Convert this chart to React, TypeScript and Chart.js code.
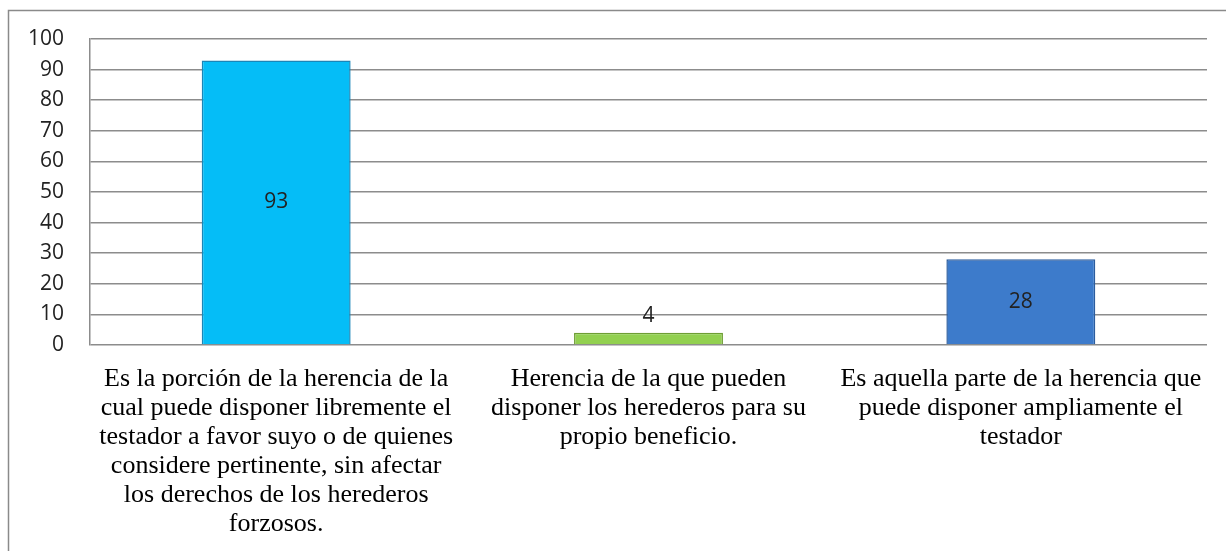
import React, { useEffect, useRef } from "react";
import { Chart, registerables } from "chart.js";

Chart.register(...registerables);

const categories: string[][] = [
  [
    "Es la porción de la herencia de la",
    "cual puede disponer libremente el",
    "testador a favor suyo o de quienes",
    "considere pertinente, sin afectar",
    "los derechos de los herederos",
    "forzosos.",
  ],
  ["Herencia de la que pueden", "disponer los herederos para su", "propio beneficio."],
  ["Es aquella parte de la herencia que", "puede disponer ampliamente el", "testador"],
];
const values: number[] = [93, 4, 28];
const barColors: string[] = ["#05BDF7", "#92D050", "#3D7BCB"];
const barBorders: string[] = ["#1A86B8", "#6E9E34", "#2B5C9E"];

const frame = {
  id: "frame",
  beforeDraw(chart: any) {
    const ctx = chart.ctx;
    ctx.save();
    ctx.strokeStyle = "#8a8a8a";
    ctx.lineWidth = 1.5;
    ctx.beginPath();
    ctx.moveTo(8.5, chart.height);
    ctx.lineTo(8.5, 10.5);
    ctx.lineTo(chart.width, 10.5);
    ctx.stroke();
    ctx.restore();
  },
  afterDatasetsDraw(chart: any) {
    const ctx = chart.ctx;
    const meta = chart.getDatasetMeta(0);
    ctx.save();
    ctx.font = '21px "Open Sans"';
    ctx.fillStyle = "#222";
    ctx.textAlign = "center";
    ctx.textBaseline = "middle";
    meta.data.forEach((bar: any, i: number) => {
      const h = bar.base - bar.y;
      const y = h > 30 ? (bar.y + bar.base) / 2 : bar.y - 17;
      ctx.fillText(String(values[i]), bar.x, y);
    });
    ctx.restore();
  },
};

export default function App() {
  const ref = useRef<HTMLCanvasElement>(null);
  useEffect(() => {
    document.body.style.margin = "0";
    const chart = new Chart(ref.current!, {
      type: "bar",
      data: {
        labels: categories,
        datasets: [
          {
            data: values,
            backgroundColor: barColors,
            borderColor: barBorders,
            borderWidth: 1.5,
            barPercentage: 0.8,
            categoryPercentage: 0.5,
          },
        ],
      },
      options: {
        animation: false,
        responsive: false,
        layout: { padding: { top: 39, right: 19, left: 0, bottom: 0 } },
        plugins: { legend: { display: false }, tooltip: { enabled: false } },
        scales: {
          y: {
            min: 0,
            max: 100,
            ticks: {
              stepSize: 10,
              padding: 26,
              color: "#222",
              font: { family: "Open Sans", size: 21 },
            },
            grid: { color: "#8c8c8c", lineWidth: 1.5, drawTicks: false },
            border: { display: true, color: "#8c8c8c", width: 1.5 },
            afterFit(scale: any) {
              scale.width = 90;
            },
          },
          x: {
            ticks: {
              color: "#000",
              font: { family: "Liberation Serif", size: 26, lineHeight: "29px" },
              padding: 20,
              maxRotation: 0,
              autoSkip: false,
            },
            grid: { display: false, drawTicks: false },
            border: { display: false },
            afterFit(scale: any) {
              scale.height = 206;
            },
          },
        },
      },
      plugins: [frame],
    });
    return () => chart.destroy();
  }, []);
  return <canvas ref={ref} width={1226} height={551} />;
}
